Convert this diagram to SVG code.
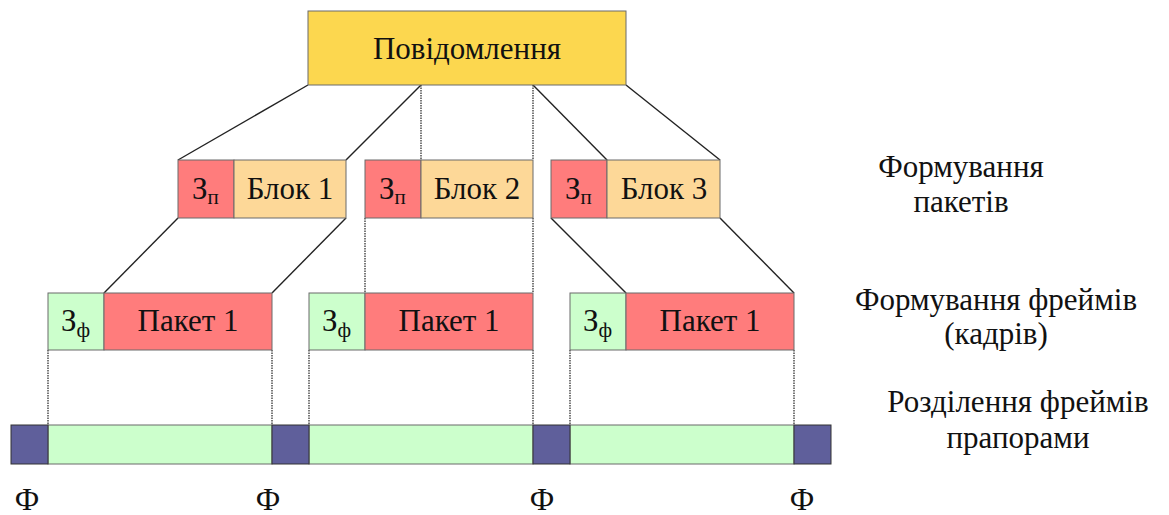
<svg xmlns="http://www.w3.org/2000/svg" width="1169" height="515" viewBox="0 0 1169 515">
  <defs>
    <style>
      .t { font-family: "Liberation Serif", serif; font-size: 31px; fill: #111; }
      .sub { font-size: 21px; }
      .box { stroke: #6b6b6b; stroke-width: 1; }
      .msg { fill: #fcd74f; }
      .hdr { fill: #ff7c7c; }
      .blk { fill: #fdd898; }
      .grn { fill: #ccffcc; }
      .flag { fill: #5f5f9b; stroke: #333; stroke-width: 1; }
      .ln { stroke: #222; stroke-width: 1.4; fill: none; }
      .dot { stroke: #333; stroke-width: 1.3; stroke-dasharray: 1.5 1; fill: none; }
    </style>
  </defs>
  <rect width="1169" height="515" fill="#fff"/>

  <!-- connectors: solid slanted links and fine dotted vertical links -->
  <g id="connectors">
    <line class="ln" x1="308" y1="85" x2="178" y2="160"/>
    <line class="ln" x1="421" y1="85" x2="346" y2="160"/>
    <line class="dot" x1="421" y1="85" x2="421" y2="160"/>
    <line class="dot" x1="533" y1="85" x2="533" y2="160"/>
    <line class="ln" x1="533" y1="85" x2="607" y2="160"/>
    <line class="ln" x1="626" y1="85" x2="720" y2="160"/>
    <line class="ln" x1="178" y1="218" x2="104" y2="293"/>
    <line class="ln" x1="346" y1="218" x2="272" y2="293"/>
    <line class="dot" x1="365" y1="218" x2="365" y2="293"/>
    <line class="dot" x1="533" y1="218" x2="533" y2="293"/>
    <line class="ln" x1="551" y1="218" x2="626" y2="293"/>
    <line class="ln" x1="720" y1="218" x2="794" y2="293"/>
    <line class="dot" x1="48" y1="350" x2="48" y2="425"/>
    <line class="dot" x1="272" y1="350" x2="272" y2="425"/>
    <line class="dot" x1="309" y1="350" x2="309" y2="425"/>
    <line class="dot" x1="533" y1="350" x2="533" y2="425"/>
    <line class="dot" x1="570" y1="350" x2="570" y2="425"/>
    <line class="dot" x1="794" y1="350" x2="794" y2="425"/>
  </g>

  <!-- message -->
  <g id="message">
    <rect class="box msg" x="308" y="11" width="318" height="74"/>
    <text class="t" x="467" y="59" text-anchor="middle">Повідомлення</text>
  </g>

  <!-- packets: header + block -->
  <g id="block1">
    <rect class="box hdr" x="178" y="160" width="56" height="58"/>
    <rect class="box blk" x="234" y="160" width="112" height="58"/>
    <text class="t" x="192" y="199">З<tspan class="sub" dy="5">п</tspan></text>
    <text class="t" x="290" y="199" text-anchor="middle">Блок 1</text>
  </g>
  <g id="block2">
    <rect class="box hdr" x="365" y="160" width="56" height="58"/>
    <rect class="box blk" x="421" y="160" width="112" height="58"/>
    <text class="t" x="379" y="199">З<tspan class="sub" dy="5">п</tspan></text>
    <text class="t" x="477" y="199" text-anchor="middle">Блок 2</text>
  </g>
  <g id="block3">
    <rect class="box hdr" x="551" y="160" width="56" height="58"/>
    <rect class="box blk" x="607" y="160" width="113" height="58"/>
    <text class="t" x="565" y="199">З<tspan class="sub" dy="5">п</tspan></text>
    <text class="t" x="664" y="199" text-anchor="middle">Блок 3</text>
  </g>

  <!-- frames: header + packet -->
  <g id="frame1">
    <rect class="box grn" x="48" y="293" width="56" height="57"/>
    <rect class="box hdr" x="104" y="293" width="168" height="57"/>
    <text class="t" x="61" y="331">З<tspan class="sub" dy="6">ф</tspan></text>
    <text class="t" x="188" y="331" text-anchor="middle">Пакет 1</text>
  </g>
  <g id="frame2">
    <rect class="box grn" x="309" y="293" width="56" height="57"/>
    <rect class="box hdr" x="365" y="293" width="168" height="57"/>
    <text class="t" x="322" y="331">З<tspan class="sub" dy="6">ф</tspan></text>
    <text class="t" x="449" y="331" text-anchor="middle">Пакет 1</text>
  </g>
  <g id="frame3">
    <rect class="box grn" x="570" y="293" width="56" height="57"/>
    <rect class="box hdr" x="626" y="293" width="168" height="57"/>
    <text class="t" x="583" y="331">З<tspan class="sub" dy="6">ф</tspan></text>
    <text class="t" x="710" y="331" text-anchor="middle">Пакет 1</text>
  </g>

  <!-- flagged frame stream -->
  <g id="stream">
    <rect class="box grn" x="48" y="425" width="224" height="39"/>
    <rect class="box grn" x="309" y="425" width="224" height="39"/>
    <rect class="box grn" x="570" y="425" width="224" height="39"/>
    <rect class="flag" x="11" y="425" width="37" height="39"/>
    <rect class="flag" x="272" y="425" width="37" height="39"/>
    <rect class="flag" x="533" y="425" width="37" height="39"/>
    <rect class="flag" x="794" y="425" width="37" height="39"/>
  </g>

  <g id="flag-labels">
    <text class="t" x="27" y="510" text-anchor="middle">Ф</text>
    <text class="t" x="268" y="510" text-anchor="middle">Ф</text>
    <text class="t" x="542" y="510" text-anchor="middle">Ф</text>
    <text class="t" x="802" y="510" text-anchor="middle">Ф</text>
  </g>

  <!-- stage captions -->
  <g id="captions">
    <text class="t" x="961" y="177" text-anchor="middle">Формування</text>
    <text class="t" x="961" y="212" text-anchor="middle">пакетів</text>
    <text class="t" x="996" y="310" text-anchor="middle">Формування фреймів</text>
    <text class="t" x="996" y="344" text-anchor="middle">(кадрів)</text>
    <text class="t" x="1018" y="412" text-anchor="middle">Розділення фреймів</text>
    <text class="t" x="1018" y="448" text-anchor="middle">прапорами</text>
  </g>
</svg>
